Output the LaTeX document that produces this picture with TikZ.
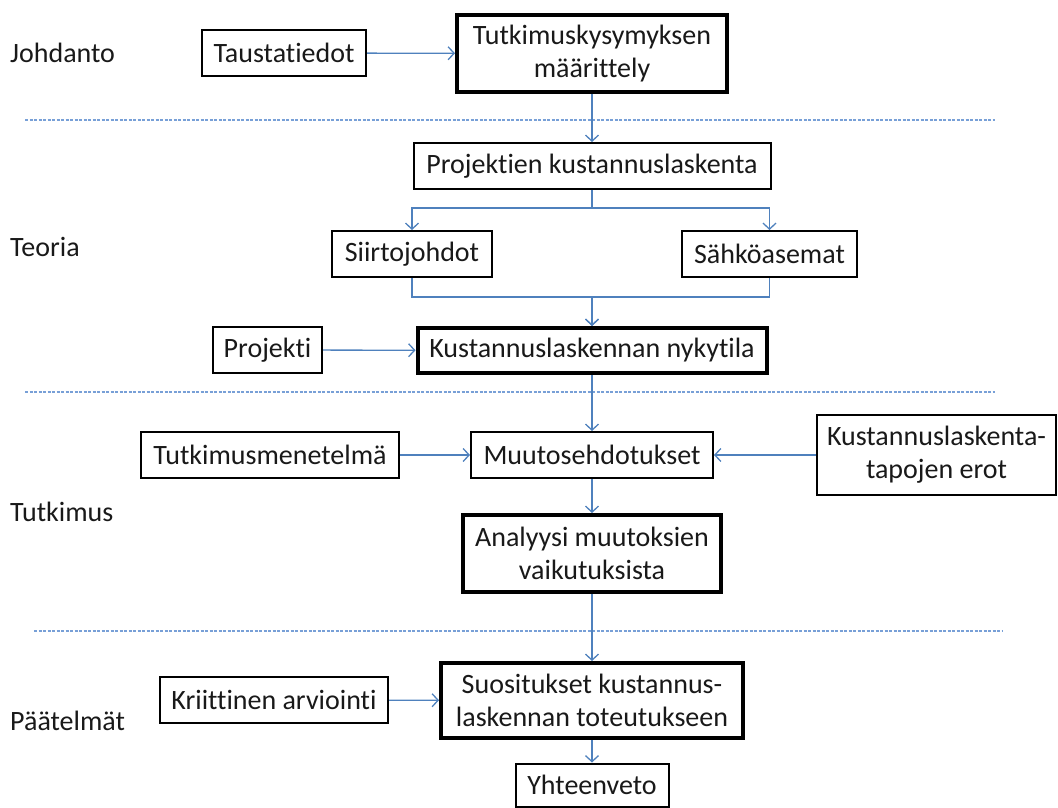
\documentclass[tikz,border=0pt]{standalone}
\usepackage{fontspec}
\setmainfont{Carlito}[Ligatures=NoCommon]
\usetikzlibrary{arrows.meta}
\definecolor{linkblue}{RGB}{79,129,189}
\definecolor{sepblue}{RGB}{120,160,215}
\begin{document}
\begin{tikzpicture}[x=1pt,y=-1pt,
  every node/.style={font=\fontsize{28}{33}\selectfont, text=black!90},
  box/.style={draw=black, line width=2pt, inner sep=0pt, align=center, fill=white},
  keybox/.style={box, line width=4pt},
  conn/.style={draw=linkblue, line width=1.3pt, -{Straight Barb[length=6pt,width=13pt,line width=1.3pt]}},
  sep/.style={draw=sepblue, line width=1.2pt, dash pattern=on 3pt off 1.5pt},
  phase/.style={anchor=base west, inner sep=0pt}]
\useasboundingbox (0,0) rectangle (1058,808);

% phase titles
\node[phase] (tJoh) at (10,63) {Johdanto};
\node[phase] (tTeo) at (10,256) {Teoria};
\node[phase] (tTut) at (10,521) {Tutkimus};
\node[phase] (tPaa) at (10,730) {Päätelmät};

% phase separators
\coordinate (s1a) at (25,120);  \coordinate (s1b) at (995,120);
\coordinate (s2a) at (25,392);  \coordinate (s2b) at (995,392);
\coordinate (s3a) at (34,631);  \coordinate (s3b) at (1003,631);
\draw[sep] (s1a) -- (s1b);
\draw[sep] (s2a) -- (s2b);
\draw[sep] (s3a) -- (s3b);

% boxes (main column centred at x = 592)
\node[box, minimum width=164pt, minimum height=46pt] (taus) at (284,53) {Taustatiedot};
\node[keybox, minimum width=270pt, minimum height=77pt] (kys) at (592,53.5) {Tutkimuskysymyksen\\määrittely};
\node[box, minimum width=357pt, minimum height=46pt] (proj) at (592,166) {Projektien kustannuslaskenta};
\node[box, minimum width=160pt, minimum height=46pt] (siirto) at (412,254) {Siirtojohdot};
\node[box, minimum width=175pt, minimum height=46pt] (sahko) at (769.5,254) {Sähköasemat};
\node[box, minimum width=109pt, minimum height=46pt] (projekti) at (267.5,350) {Projekti};
\node[keybox, minimum width=349pt, minimum height=45pt] (nyky) at (592,350.5) {Kustannuslaskennan nykytila};
\node[box, minimum width=258pt, minimum height=46pt] (menet) at (270,455) {Tutkimusmenetelmä};
\node[box, minimum width=242pt, minimum height=46pt] (muutos) at (592,455) {Muutosehdotukset};
\node[box, minimum width=239pt, minimum height=80pt] (erot) at (936.5,455) {Kustannuslaskenta-\\tapojen erot};
\node[keybox, minimum width=258pt, minimum height=77pt] (anal) at (592,553.5) {Analyysi muutoksien\\vaikutuksista};
\node[box, minimum width=228pt, minimum height=46pt] (krit) at (274,700) {Kriittinen arviointi};
\node[keybox, minimum width=302pt, minimum height=75pt] (suos) at (592,700.5) {Suositukset kustannus-\\laskennan toteutukseen};
\node[box, minimum width=153pt, minimum height=43pt] (yht) at (592,785) {Yhteenveto};

% connectors
\draw[conn] (taus) -- (kys);
\draw[conn] (kys.south) -- (proj.north);
\draw[conn] (proj.south) -- ++(0,18) -| (siirto.north);
\draw[conn] (proj.south) -- ++(0,18) -| (sahko.north);
\draw[conn] (siirto.south) -- ++(0,19) -| (nyky.north);
\draw[conn] (sahko.south) -- ++(0,19) -| (nyky.north);
\draw[conn] (projekti) -- (nyky);
\draw[conn] (nyky.south) -- (muutos.north);
\draw[conn] (menet) -- (muutos);
\draw[conn] (erot) -- (muutos);
\draw[conn] (muutos.south) -- (anal.north);
\draw[conn] (anal.south) -- (suos.north);
\draw[conn] (krit) -- (suos);
\draw[conn] (suos.south) -- (yht.north);
\end{tikzpicture}
\end{document}
